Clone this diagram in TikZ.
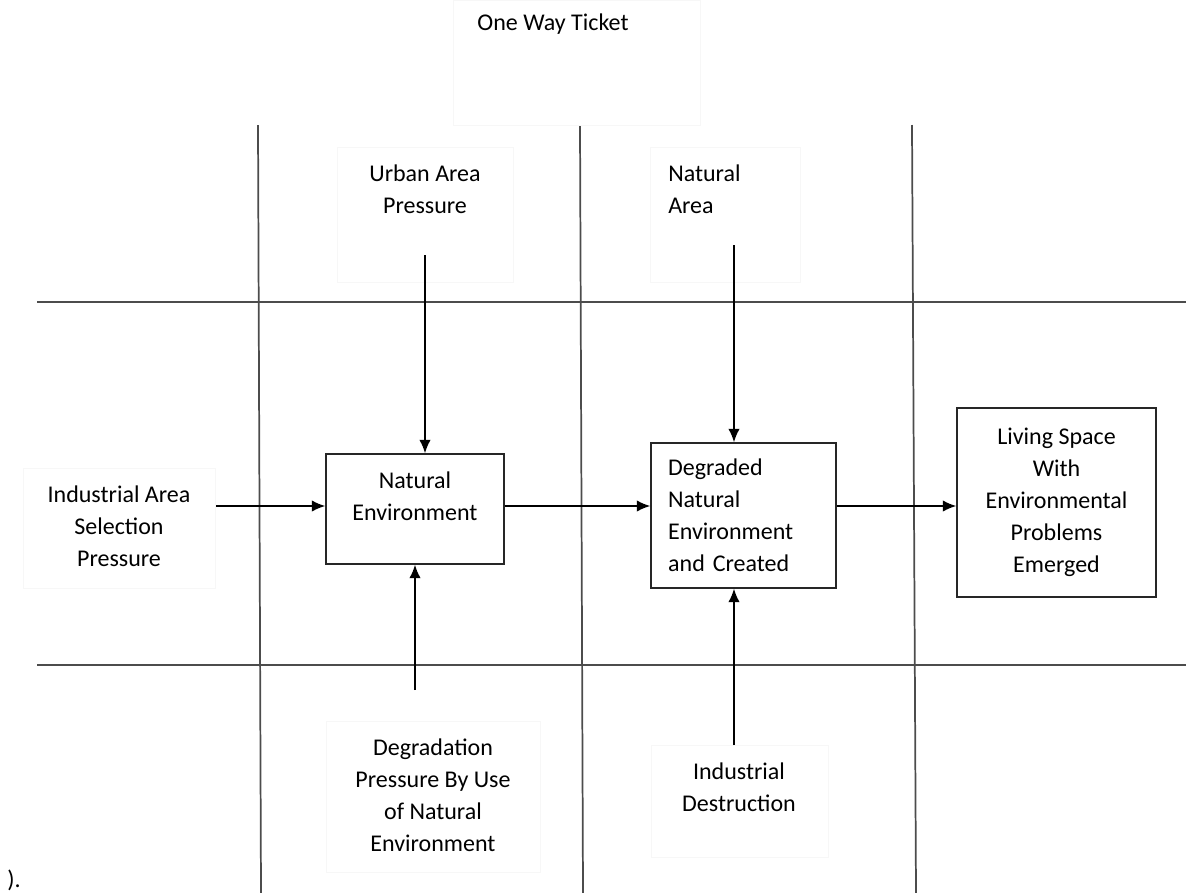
\documentclass[tikz,border=0pt]{standalone}
\usepackage{fontspec}
\setmainfont{Carlito}
\usetikzlibrary{arrows.meta}

\tikzset{
  grid/.style={draw=black!70,line width=1.3pt},
  frame/.style={draw=black!3,line width=0.6pt},
  box/.style={draw=black!85,line width=1.1pt,inner sep=0pt,align=center},
  lbl/.style={inner sep=0pt,align=center},
  arr/.style={draw=black,line width=1.2pt,-{Latex[length=10pt,width=8.5pt]}}
}

\begin{document}
\begin{tikzpicture}[x=0.75pt,y=-0.75pt,font=\fontsize{18}{24}\selectfont]
  \useasboundingbox (0,0) rectangle (1186,893);

  % grid
  %lines
  \draw[grid] (258,125) -- (261,893);
  \draw[grid] (580,125) -- (583,893);
  \draw[grid] (912,125) -- (916,893);
  \draw[grid] (37,302) -- (1186,302);
  \draw[grid] (37,665) -- (1186,665);

  % frames
  \draw[frame] (453,0) rectangle (700,125);
  \draw[frame] (337,147) rectangle (513,282);
  \draw[frame] (650,147) rectangle (800,282);
  \draw[frame] (23,468) rectangle (215,588);
  \draw[frame] (326,721) rectangle (540,872);
  \draw[frame] (651,745) rectangle (828,857);

  % main
  %boxes
  \node[box,minimum width=133.5pt,minimum height=82.5pt,text depth=19pt,at={(415,509)}] (natenv) {Natural\\Environment};
  \node[box,minimum width=138.75pt,minimum height=108.75pt,text width=113pt,align=left,at={(743.5,515.5)}] (degenv) {Degraded\\Natural\\Environment\\and Created};
  \node[box,minimum width=149.25pt,minimum height=141.75pt,at={(1056.5,502.5)}] (living) {Living Space\\With\\Environmental\\Problems\\Emerged};
  %labels
  \node[lbl,at={(553,24)}] (ticket) {One Way Ticket};
  \node[lbl,at={(425,189)}] (urban) {Urban Area\\Pressure};
  \node[lbl,anchor=west,align=left,at={(668,189.5)}] (natarea) {Natural\\Area};
  \node[lbl,at={(119,526)}] (indsel) {Industrial Area\\Selection\\Pressure};
  \node[lbl,at={(433,795)}] (degpress) {Degradation\\Pressure By Use\\of Natural\\Environment};
  \node[lbl,at={(739,787)}] (inddest) {Industrial\\Destruction};
  \node[lbl,anchor=west,at={(7,880)}] (tail) {).};

  % arrows
  %ends
  \coordinate (row) at (0,506);
  \coordinate (urbanend) at (425,255);
  \coordinate (natareaend) at (734,245);
  \coordinate (indselend) at (216,506);
  \coordinate (degpressend) at (415,690);
  \coordinate (inddestend) at (734,745);
  %edges
  \draw[arr] (indselend) -- (natenv.west |- row);
  \draw[arr] (natenv.east |- row) -- (degenv.west |- row);
  \draw[arr] (degenv.east |- row) -- (living.west |- row);
  \draw[arr] (urbanend) -- (urbanend |- natenv.north);
  \draw[arr] (degpressend) -- (degpressend |- natenv.south);
  \draw[arr] (natareaend) -- (natareaend |- degenv.north);
  \draw[arr] (inddestend) -- (inddestend |- degenv.south);
\end{tikzpicture}
\end{document}
